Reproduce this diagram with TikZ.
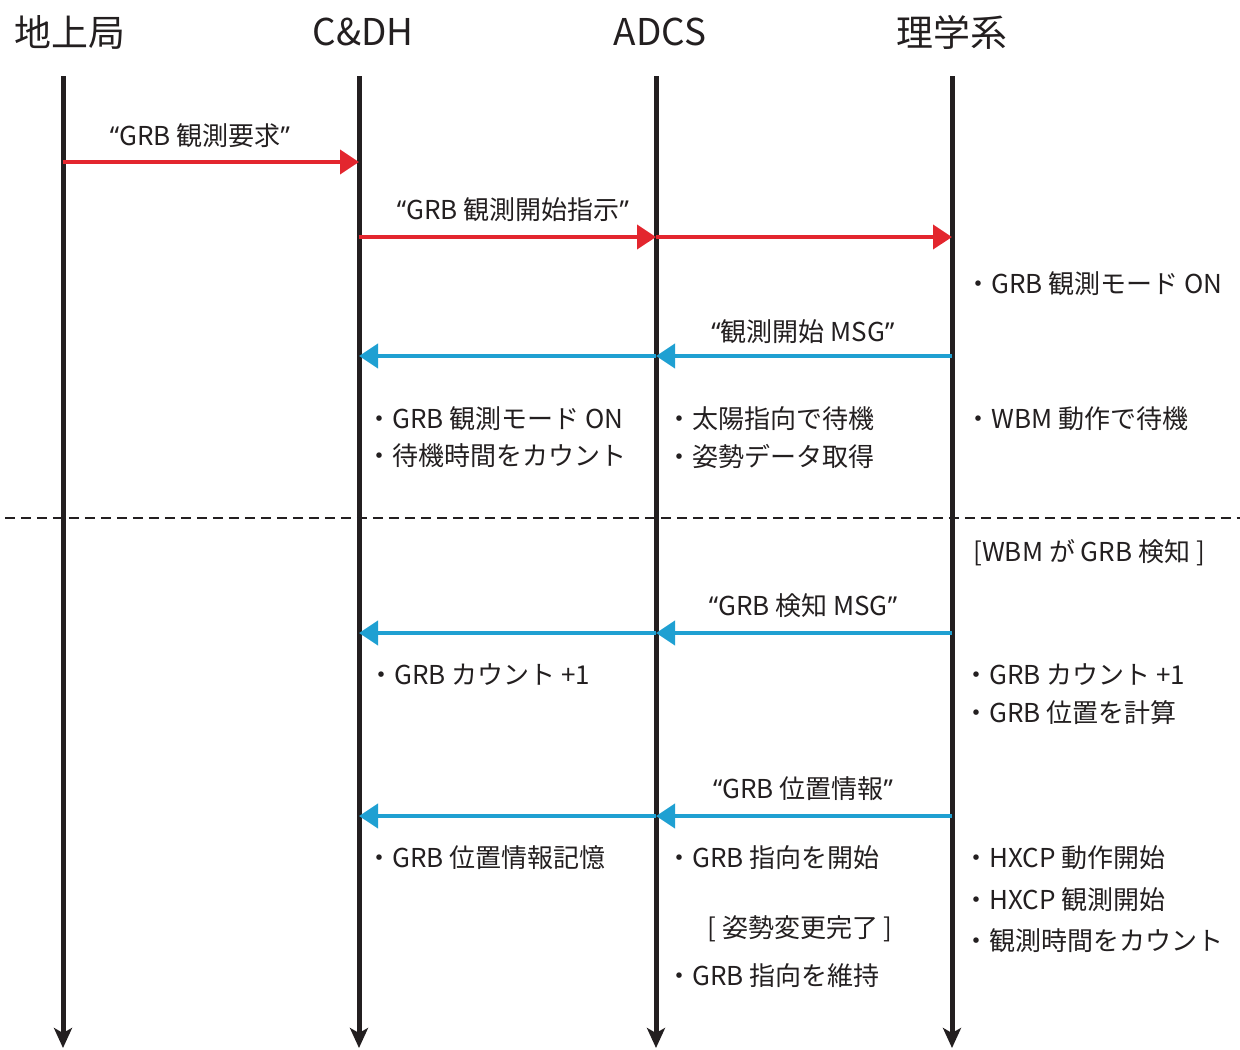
\documentclass[tikz,border=0pt]{standalone}
\usepackage{fontspec}
\setmainfont{Noto Sans CJK JP}
\newfontfamily\qf{Noto Sans}
\usetikzlibrary{arrows.meta}
\definecolor{ared}{HTML}{E3262E}
\definecolor{ablue}{HTML}{1FA0D2}
\definecolor{ink}{HTML}{231F20}
\newcommand{\oq}{{\qf “}}
\newcommand{\cq}{{\qf ”}}
\begin{document}
\begin{tikzpicture}[x=0.02cm,y=-0.02cm,
  life/.style={draw=ink,line width=0.1cm,-{Stealth[length=0.4cm,width=0.36cm,inset=0.1cm]}},
  req/.style={draw=ared,line width=0.08cm,-{Triangle[length=0.38cm,width=0.48cm]}},
  rep/.style={draw=ablue,line width=0.08cm,-{Triangle[length=0.38cm,width=0.48cm]}},
  head/.style={font=\fontsize{21pt}{25pt}\selectfont,text=ink,inner sep=0pt},
  lbl/.style={font=\fontsize{14.8pt}{18pt}\selectfont,text=ink,inner sep=0pt},
  note/.style={lbl,anchor=west}]
\useasboundingbox (0,0) rectangle (1240,1049);
% lifelines
\coordinate (T0) at (63,76);  \coordinate (B0) at (63,1048);
\coordinate (T1) at (359,76); \coordinate (B1) at (359,1048);
\coordinate (T2) at (656,76); \coordinate (B2) at (656,1048);
\coordinate (T3) at (952,76); \coordinate (B3) at (952,1048);
\draw[life] (T0) -- (B0);
\draw[life] (T1) -- (B1);
\draw[life] (T2) -- (B2);
\draw[life] (T3) -- (B3);
% headers
\node[head] (h0) at (70,32) {地上局};
\node[head] (h1) at (363,32) {C\&DH};
\node[head] (h2) at (660,32) {ADCS};
\node[head] (h3) at (952,32) {理学系};
% divider
\coordinate (dA) at (5,518);
\coordinate (dB) at (1240,518);
\draw[ink,line width=0.03cm,dash pattern=on 0.2cm off 0.12cm] (dA) -- (dB);
% message 1
\coordinate (a0) at (63,162); \coordinate (a1) at (359,162);
\draw[req] (a0) -- (a1);
\node[lbl] (m1) at (200,136) {\oq GRB 観測要求\cq};
% message 2
\coordinate (b1) at (359,237); \coordinate (b2) at (656,237); \coordinate (b3) at (952,237);
\draw[req] (b1) -- (b2);
\draw[req] (b2) -- (b3);
\node[lbl] (m2) at (513,210) {\oq GRB 観測開始指示\cq};
% message 3
\coordinate (c3) at (952,356); \coordinate (c2) at (656,356); \coordinate (c1) at (359,356);
\draw[rep] (c3) -- (c2);
\draw[rep] (c2) -- (c1);
\node[lbl] (m3) at (803,332) {\oq 観測開始 MSG\cq};
% message 4
\coordinate (d3) at (952,633); \coordinate (d2) at (656,633); \coordinate (d1) at (359,633);
\draw[rep] (d3) -- (d2);
\draw[rep] (d2) -- (d1);
\node[lbl] (m4) at (803,606) {\oq GRB 検知 MSG\cq};
% message 5
\coordinate (e3) at (952,816); \coordinate (e2) at (656,816); \coordinate (e1) at (359,816);
\draw[rep] (e3) -- (e2);
\draw[rep] (e2) -- (e1);
\node[lbl] (m5) at (803,789) {\oq GRB 位置情報\cq};
% notes
\node[note] (n1) at (965,284) {・GRB 観測モード ON};
\node[note] (n2) at (366,419) {・GRB 観測モード ON};
\node[note] (n3) at (366,456) {・待機時間をカウント};
\node[note] (n4) at (666,419) {・太陽指向で待機};
\node[note] (n5) at (666,456) {・姿勢データ取得};
\node[note] (n6) at (965,419) {・WBM 動作で待機};
\node[note] (n7) at (973,553) {[WBM が GRB 検知 ]};
\node[note] (n8) at (368,675) {・GRB カウント +1};
\node[note] (n9) at (963,675) {・GRB カウント +1};
\node[note] (n10) at (963,713) {・GRB 位置を計算};
\node[note] (n11) at (366,858) {・GRB 位置情報記憶};
\node[note] (n12) at (666,858) {・GRB 指向を開始};
\node[lbl] (n13) at (800,929) {[ 姿勢変更完了 ]};
\node[note] (n14) at (666,976) {・GRB 指向を維持};
\node[note] (n15) at (963,858) {・HXCP 動作開始};
\node[note] (n16) at (963,900) {・HXCP 観測開始};
\node[note] (n17) at (963,941) {・観測時間をカウント};
\end{tikzpicture}
\end{document}
